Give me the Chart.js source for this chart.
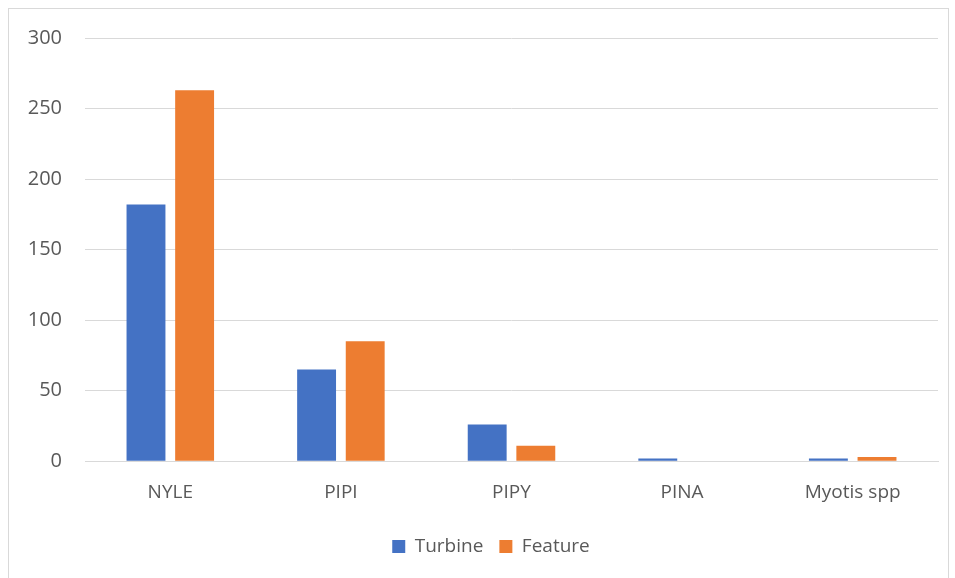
<!DOCTYPE html>
<html>
<head>
<meta charset="utf-8">
<script src="https://cdn.jsdelivr.net/npm/chart.js@4"></script>
<style>
  body { margin: 0; background: #fff; }
  #wrap { position: relative; width: 955px; height: 578px; }
  #frame { position: absolute; left: 8px; top: 8px; width: 941px; height: 580px; border: 1px solid #d9d9d9; box-sizing: border-box; }
  canvas { position: absolute; left: 0; top: 0; }
</style>
</head>
<body>
<div id="wrap">
  <div id="frame"></div>
  <canvas id="bars" width="955" height="578"></canvas>
</div>
<script>
var species = ['NYLE', 'PIPI', 'PIPY', 'PINA', 'Myotis spp'];
var turbine = [182, 65, 26, 2, 2];
var feature = [263, 85, 11, 0, 3];

var grey = '#595959';
var font = "'Open Sans', 'Liberation Sans', sans-serif";

// nudge the legend a little right, like the original
var shiftLegend = {
    id: 'shiftLegend',
    afterLayout: function(chart) {
        chart.legend.left += 22;
        chart.legend.right += 22;
    }
};

var ctx = document.getElementById('bars').getContext('2d');
var myChart = new Chart(ctx, {
    type: 'bar',
    data: {
        labels: species,
        datasets: [{
            label: 'Turbine',
            data: turbine,
            backgroundColor: '#4472C4'
        }, {
            label: 'Feature',
            data: feature,
            backgroundColor: '#ED7D31'
        }]
    },
    options: {
        responsive: false,
        animation: false,
        categoryPercentage: 0.57,
        barPercentage: 0.8,
        layout: {
            padding: { left: 0, right: 17, top: 38, bottom: 12 }
        },
        plugins: {
            legend: {
                position: 'bottom',
                labels: {
                    color: grey,
                    font: { family: font, size: 19 },
                    boxWidth: 13,
                    boxHeight: 13,
                    padding: 16
                }
            },
            tooltip: { enabled: false }
        },
        scales: {
            x: {
                afterFit: function(scale) { scale.height -= 3; },
                grid: { display: false, drawTicks: false },
                border: { display: true, color: '#d9d9d9', width: 1 },
                ticks: { color: grey, font: { family: font, size: 19 }, padding: 20 }
            },
            y: {
                min: 0,
                max: 300,
                afterFit: function(scale) { scale.width = 85; },
                grid: { color: '#d9d9d9', drawTicks: false },
                border: { display: false },
                ticks: { stepSize: 50, color: grey, font: { family: font, size: 20 }, padding: 23 }
            }
        }
    },
    plugins: [shiftLegend]
});
</script>
</body>
</html>
